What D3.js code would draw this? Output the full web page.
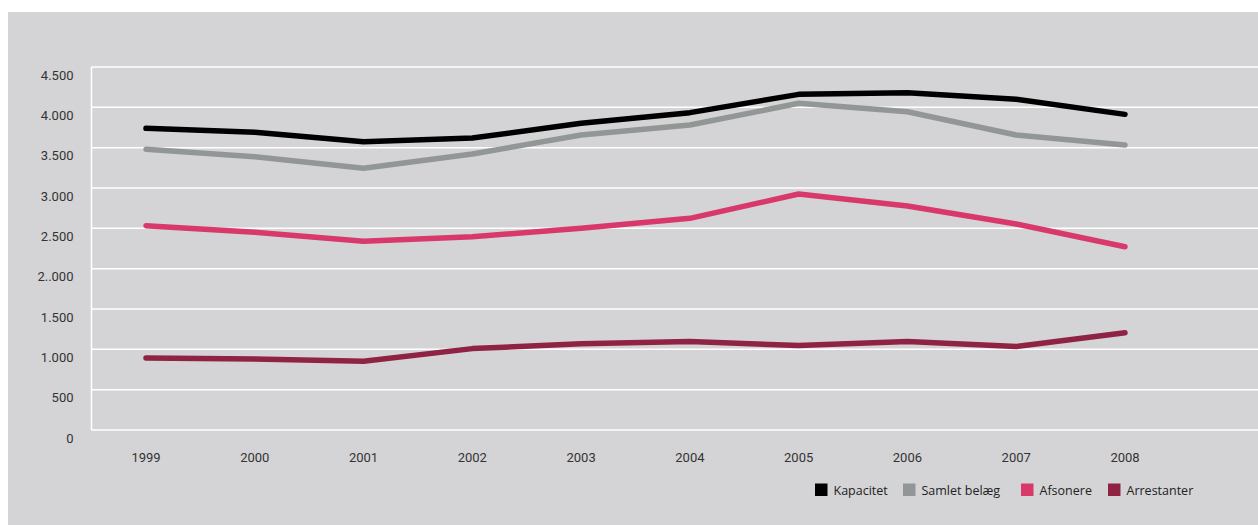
<!DOCTYPE html>
<html>
<head>
<meta charset="utf-8">
<script src="https://cdn.jsdelivr.net/npm/d3@7"></script>
<style>
  html, body { margin: 0; padding: 0; background: #ffffff; }
  svg { display: block; }
</style>
</head>
<body>
<svg id="chart" width="1258" height="525"></svg>
<script>
const years = ["1999","2000","2001","2002","2003","2004","2005","2006","2007","2008"];
const kapacitet   = [3740, 3690, 3574, 3620, 3802, 3934, 4161, 4180, 4100, 3913];
const samletBelaeg = [3480, 3388, 3244, 3421, 3657, 3781, 4050, 3946, 3657, 3533];
const afsonere    = [2533, 2450, 2339, 2397, 2500, 2624, 2925, 2776, 2553, 2272];
const arrestanter = [893, 880, 851, 1009, 1068, 1098, 1047, 1098, 1034, 1205];
const yTicks = [0, 500, 1000, 1500, 2000, 2500, 3000, 3500, 4000, 4500];
const yTickLabels = ["0", "500", "1.000", "1.500", "2..000", "2.500", "3.000", "3.500", "4.000", "4.500"];
const seriesNames = ["Kapacitet", "Samlet belæg", "Afsonere", "Arrestanter"];
const seriesColors = ["#000000", "#929795", "#d9386b", "#8f2344"];

const series = [kapacitet, samletBelaeg, afsonere, arrestanter];

const svg = d3.select("#chart");
const W = 1258, H = 525;

// background panel
svg.append("rect").attr("x", 8).attr("y", 12).attr("width", W - 8).attr("height", H - 12)
  .attr("fill", "#d4d4d6");

const plotLeft = 91.5, plotRight = W;
const x = d3.scalePoint().domain(years).range([146, 1125]);
const y = d3.scaleLinear().domain([0, 4500]).range([430, 67]);

// gridlines
svg.append("g").selectAll("line").data(yTicks).join("line")
  .attr("x1", plotLeft).attr("x2", plotRight)
  .attr("y1", d => y(d)).attr("y2", d => y(d))
  .attr("stroke", "#ffffff").attr("stroke-width", 1.5);

// vertical axis line
svg.append("line").attr("x1", plotLeft).attr("x2", plotLeft)
  .attr("y1", y(4500)).attr("y2", y(0))
  .attr("stroke", "#ffffff").attr("stroke-width", 1.5);

// y labels
svg.append("g").selectAll("text").data(yTicks).join("text")
  .attr("x", 73.5).attr("y", d => y(d) + 12.5)
  .attr("text-anchor", "end")
  .attr("font-family", "Roboto, 'DejaVu Sans', sans-serif")
  .attr("font-size", 13).attr("fill", "#333333")
  .text((d, i) => yTickLabels[i]);

// x labels
svg.append("g").selectAll("text").data(years).join("text")
  .attr("x", d => x(d)).attr("y", 461.5)
  .attr("text-anchor", "middle")
  .attr("font-family", "Roboto, 'DejaVu Sans', sans-serif")
  .attr("font-size", 13).attr("fill", "#333333")
  .text(d => d);

// lines
const line = d3.line().x((d, i) => x(years[i])).y(d => y(d));
svg.append("g").selectAll("path").data(series).join("path")
  .attr("d", d => line(d))
  .attr("fill", "none")
  .attr("stroke", (d, i) => seriesColors[i])
  .attr("stroke-width", 5.5)
  .attr("stroke-linecap", "round")
  .attr("stroke-linejoin", "round");

// legend
const legendX = [815, 903, 1021, 1108];
const lg = svg.append("g");
seriesNames.forEach((name, i) => {
  lg.append("rect").attr("x", legendX[i]).attr("y", 483.5).attr("width", 12.5).attr("height", 12.5)
    .attr("fill", seriesColors[i]);
  lg.append("text").attr("x", legendX[i] + 18.5).attr("y", 494.5)
    .attr("font-family", "'Open Sans', 'DejaVu Sans', sans-serif")
    .attr("font-size", 12.5).attr("fill", "#222222")
    .attr("textLength", null)
    .text(name);
});
</script>
</body>
</html>
